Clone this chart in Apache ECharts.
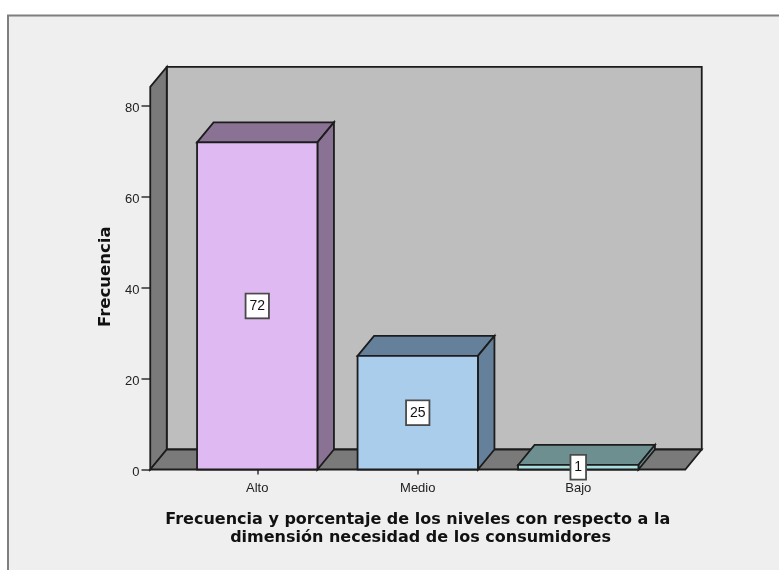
<!DOCTYPE html>
<html>
<head>
<meta charset="utf-8">
<style>
html,body{margin:0;padding:0;background:#fff}
#chart{width:779px;height:570px}
</style>
<script src="https://cdn.jsdelivr.net/npm/echarts@6/dist/echarts.min.js"></script>
</head>
<body>
<div id="chart"></div>
<script>
// Frequency of need levels among consumers, drawn as a 3D-style SPSS bar chart.
const categories = ['Alto', 'Medio', 'Bajo'];
const frequencies = [72, 25, 1];
const frontColors = ['#dfb9f2', '#aacdec', '#a9dede'];
const shadeColors = ['#8a7295', '#65809b', '#6e8f8f'];
const yTicksMax = 80;
const wallTopValue = 84.2;
const xTitle = 'Frecuencia y porcentaje de los niveles con respecto a la\n dimensión necesidad de los consumidores';
const yTitle = 'Frecuencia';

const depthX = 16.5, depthY = 20;
const edge = { stroke: '#1c1c1c', lineWidth: 1.8, lineJoin: 'miter' };
const quad = (pts, fill) => ({ type: 'polygon', shape: { points: pts }, style: Object.assign({ fill }, edge) });

// Back wall, side wall and floor, placed from the axis scales.
function renderWalls(params, api) {
  const band = api.size([1, 0])[0];
  const pad = band * 2 / 3;
  const x0 = api.coord([0, 0])[0] - pad;
  const x1 = api.coord([categories.length - 1, 0])[0] + pad;
  const yb = api.coord([0, 0])[1];
  const yt = api.coord([0, wallTopValue])[1];
  return {
    type: 'group',
    children: [
      quad([[x0 + depthX, yt - depthY], [x1 + depthX, yt - depthY], [x1 + depthX, yb - depthY], [x0 + depthX, yb - depthY]], '#bebebe'),
      quad([[x0, yt], [x0 + depthX, yt - depthY], [x0 + depthX, yb - depthY], [x0, yb]], '#7a7a7a'),
      quad([[x0, yb], [x1, yb], [x1 + depthX, yb - depthY], [x0 + depthX, yb - depthY]], '#7a7a7a')
    ]
  };
}

// One extruded bar: top and side faces in the shade colour, then the front face.
function renderBar(params, api) {
  const i = api.value(0), v = api.value(1);
  const [cx, yv] = api.coord([i, v]);
  const yb = api.coord([i, 0])[1];
  const w = api.size([1, 0])[0] * 0.75;
  const l = cx - w / 2, r = cx + w / 2;
  return {
    type: 'group',
    children: [
      quad([[l, yv], [l + depthX, yv - depthY], [r + depthX, yv - depthY], [r, yv]], shadeColors[i]),
      quad([[r, yv], [r + depthX, yv - depthY], [r + depthX, yb - depthY], [r, yb]], shadeColors[i]),
      quad([[l, yv], [r, yv], [r, yb], [l, yb]], frontColors[i])
    ]
  };
}

// Boxed value label at the middle of each bar's front face.
function renderValueLabel(params, api) {
  const i = api.value(0), v = api.value(1);
  const [cx, cy] = api.coord([i, v / 2]);
  return {
    type: 'text',
    z2: 10,
    x: cx, y: cy,
    style: {
      text: String(v),
      fill: '#111111',
      font: '14px "Liberation Sans"',
      align: 'center',
      verticalAlign: 'middle',
      backgroundColor: '#ffffff',
      borderColor: '#4a4a4a',
      borderWidth: 1.8,
      padding: [5, 3, 4, 3]
    }
  };
}

const barData = categories.map((c, i) => [i, frequencies[i]]);
const chart = echarts.init(document.getElementById('chart'), null, { renderer: 'canvas' });
chart.setOption({
  animation: false,
  backgroundColor: '#ffffff',
  graphic: [{
    type: 'rect', z: -10, silent: true,
    shape: { x: 8, y: 15.5, width: 800, height: 600 },
    style: { fill: '#efefef', stroke: '#7f7f7f', lineWidth: 2 }
  }],
  grid: { left: 177, right: 120.5, top: 106, bottom: 100.5 },
  xAxis: {
    type: 'category',
    data: categories,
    axisLine: { show: false },
    axisTick: { show: true, alignWithLabel: true, length: 5, lineStyle: { color: '#333333', width: 1.5 } },
    axisLabel: { color: '#222222', fontFamily: 'Liberation Sans', fontSize: 13, margin: 12 },
    name: xTitle,
    nameLocation: 'middle',
    nameGap: 41,
    nameTextStyle: { color: '#111111', fontFamily: 'DejaVu Sans', fontWeight: 'bold', fontSize: 16, lineHeight: 18 }
  },
  yAxis: {
    type: 'value',
    min: 0,
    max: yTicksMax,
    interval: 20,
    offset: 26.5,
    axisLine: { show: false },
    splitLine: { show: false },
    axisTick: { show: true, length: 9, lineStyle: { color: '#333333', width: 1.5 } },
    axisLabel: { color: '#222222', fontFamily: 'Liberation Sans', fontSize: 13, margin: 11, verticalAlign: 'top', padding: [-4, 0, 0, 0] },
    name: yTitle,
    nameLocation: 'middle',
    nameRotate: 90,
    nameGap: 36,
    nameTextStyle: { color: '#111111', fontFamily: 'DejaVu Sans', fontWeight: 'bold', fontSize: 16.5, padding: [0, 0, 0, 22] }
  },
  series: [
    { type: 'custom', name: 'walls', data: [[0, 0]], renderItem: renderWalls, clip: false, silent: true, z: 1 },
    { type: 'custom', name: 'Frecuencia', data: barData, renderItem: renderBar, clip: false, z: 2 },
    { type: 'custom', name: 'etiquetas', data: barData, renderItem: renderValueLabel, clip: false, z: 5 }
  ]
});
</script>
</body>
</html>
